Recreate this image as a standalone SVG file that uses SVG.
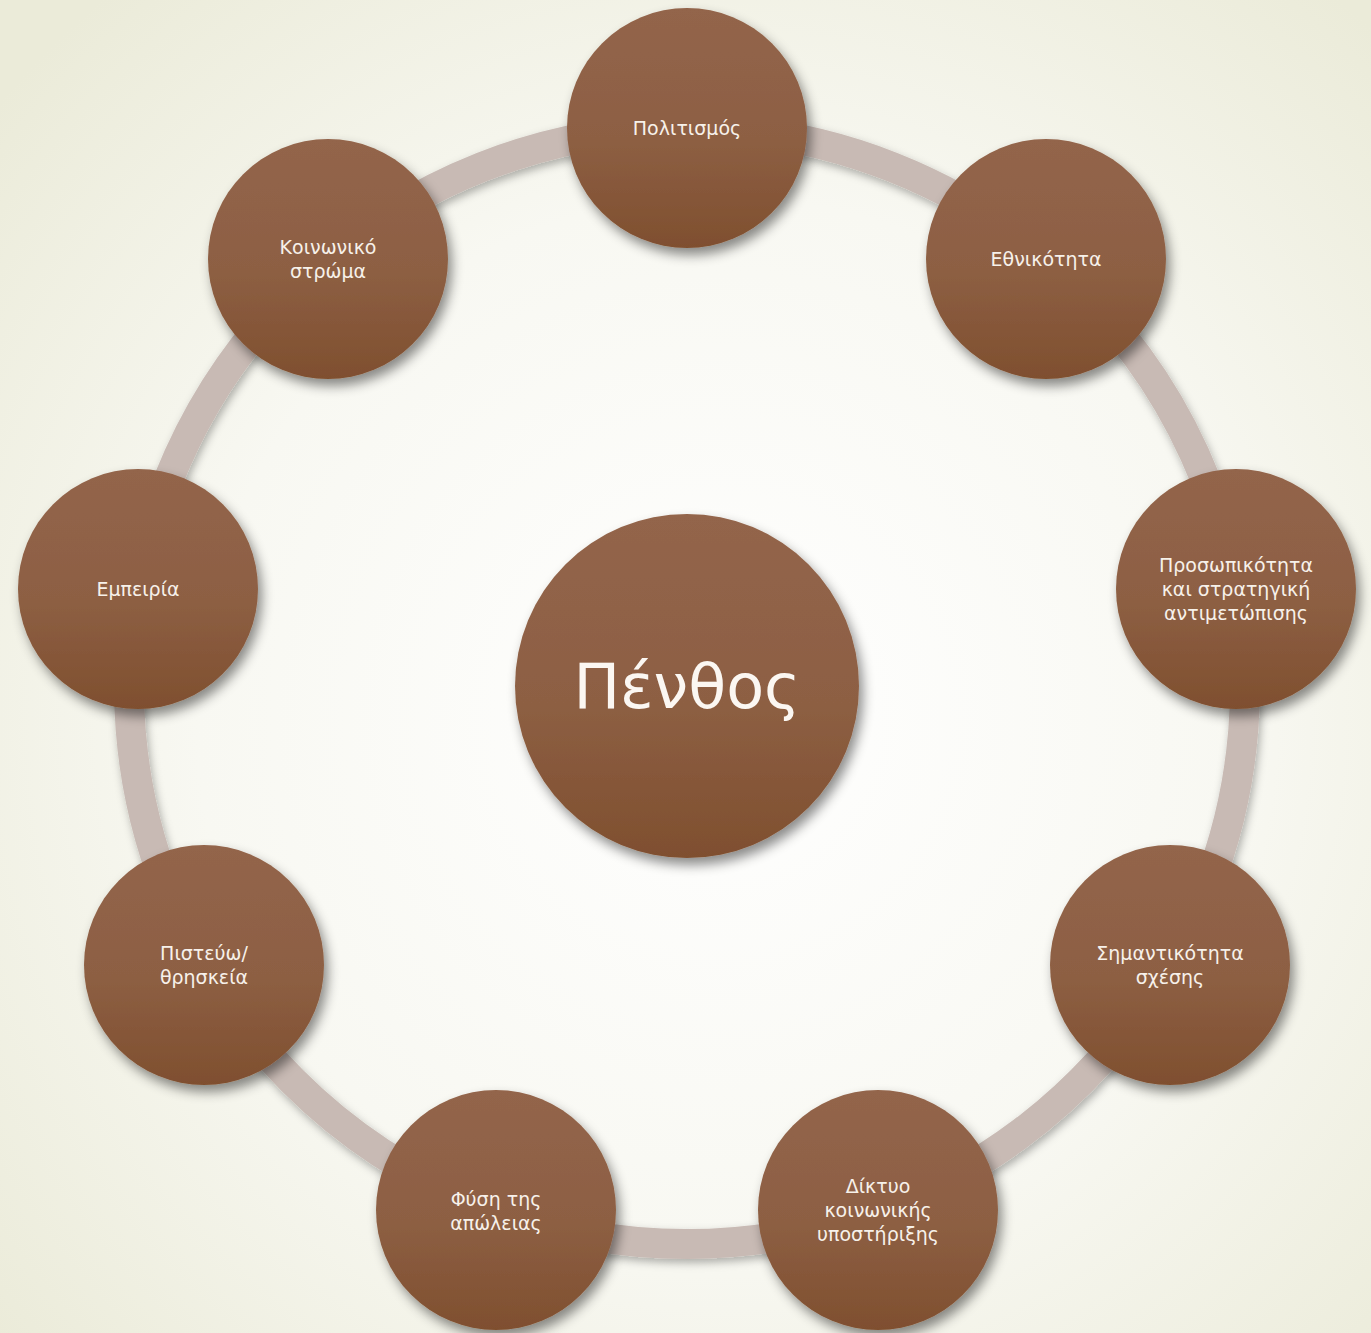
<svg xmlns="http://www.w3.org/2000/svg" width="1371" height="1333" viewBox="0 0 1371 1333">
<defs>
<radialGradient id="bg" cx="720" cy="720" r="950" gradientUnits="userSpaceOnUse">
<stop offset="0" stop-color="#ffffff"/>
<stop offset="0.55" stop-color="#f8f8f2"/>
<stop offset="1" stop-color="#ebebd9"/>
</radialGradient>
<linearGradient id="ball" x1="0" y1="0" x2="0" y2="1">
<stop offset="0" stop-color="#93654b"/>
<stop offset="0.55" stop-color="#8d5f43"/>
<stop offset="1" stop-color="#7f4f2f"/>
</linearGradient>
<filter id="sh" x="-30%" y="-30%" width="160%" height="160%">
<feDropShadow dx="4" dy="7" stdDeviation="6" flood-color="#000" flood-opacity="0.45"/>
</filter>
<filter id="rsh" x="-10%" y="-10%" width="120%" height="120%">
<feDropShadow dx="2" dy="4" stdDeviation="4" flood-color="#000" flood-opacity="0.3"/>
</filter>
</defs>
<style>
.n{fill:url(#ball);filter:url(#sh);}
.t{font-family:"DejaVu Sans","Noto Sans",sans-serif;font-size:19px;fill:#f7f1ea;text-anchor:middle;}
.big{font-family:"DejaVu Sans","Noto Sans",sans-serif;font-size:62px;fill:#fbf7f2;text-anchor:middle;}
</style>
<rect width="1371" height="1333" fill="url(#bg)"/>
<g id="connectors">
<circle cx="687" cy="686" r="558" fill="none" stroke="#c8bab4" stroke-width="30" filter="url(#rsh)"/>
</g>
<g id="center">
<circle class="n" cx="687" cy="686" r="172"/>
<text class="big" x="687" y="708">Πένθος</text>
</g>
<g id="n1">
<circle class="n" cx="687" cy="128" r="120"/>
<text class="t" x="687" y="135">Πολιτισμός</text>
</g>
<g id="n2">
<circle class="n" cx="1046" cy="259" r="120"/>
<text class="t" x="1046" y="266">Εθνικότητα</text>
</g>
<g id="n3">
<circle class="n" cx="1236" cy="589" r="120"/>
<text class="t" x="1236" y="572">Προσωπικότητα</text>
<text class="t" x="1236" y="596">και στρατηγική</text>
<text class="t" x="1236" y="620">αντιμετώπισης</text>
</g>
<g id="n4">
<circle class="n" cx="1170" cy="965" r="120"/>
<text class="t" x="1170" y="960">Σημαντικότητα</text>
<text class="t" x="1170" y="984">σχέσης</text>
</g>
<g id="n5">
<circle class="n" cx="878" cy="1210" r="120"/>
<text class="t" x="878" y="1193">Δίκτυο</text>
<text class="t" x="878" y="1217">κοινωνικής</text>
<text class="t" x="878" y="1241">υποστήριξης</text>
</g>
<g id="n6">
<circle class="n" cx="496" cy="1210" r="120"/>
<text class="t" x="496" y="1206">Φύση της</text>
<text class="t" x="496" y="1230">απώλειας</text>
</g>
<g id="n7">
<circle class="n" cx="204" cy="965" r="120"/>
<text class="t" x="204" y="960">Πιστεύω/</text>
<text class="t" x="204" y="984">θρησκεία</text>
</g>
<g id="n8">
<circle class="n" cx="138" cy="589" r="120"/>
<text class="t" x="138" y="596">Εμπειρία</text>
</g>
<g id="n9">
<circle class="n" cx="328" cy="259" r="120"/>
<text class="t" x="328" y="254">Κοινωνικό</text>
<text class="t" x="328" y="278">στρώμα</text>
</g>
</svg>
